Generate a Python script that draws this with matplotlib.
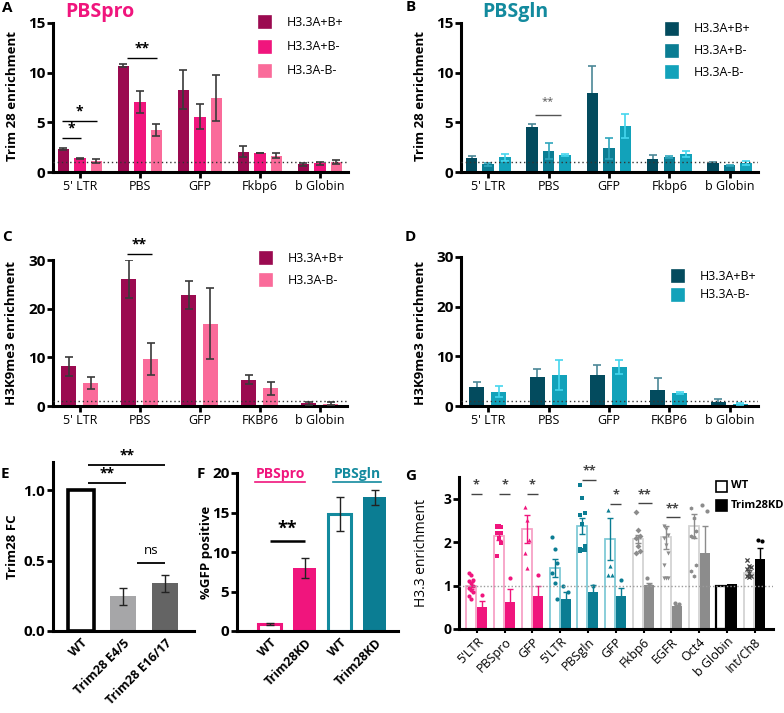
import matplotlib
matplotlib.use('Agg')
import matplotlib.pyplot as plt
import numpy as np
from matplotlib.patches import Rectangle
from matplotlib.lines import Line2D

plt.rcParams['font.family'] = ['Open Sans', 'DejaVu Sans']

# ---------------- data ----------------
genes_AB = ["5' LTR", "PBS", "GFP", "Fkbp6", "b Globin"]
genes_CD = ["5' LTR", "PBS", "GFP", "FKBP6", "b Globin"]
series3 = ["H3.3A+B+", "H3.3A+B-", "H3.3A-B-"]
series2 = ["H3.3A+B+", "H3.3A-B-"]

a_pp = [2.35, 10.7, 8.3, 2.05, 0.77]
a_pm = [1.4, 7.05, 5.55, 1.88, 0.87]
a_mm = [1.1, 4.22, 7.48, 1.64, 1.0]
a_pp_err = [0.1, 0.15, 1.95, 0.55, 0.12]
a_pm_err = [0.05, 1.08, 1.25, 0.0, 0.12]
a_mm_err = [0.2, 0.58, 2.3, 0.27, 0.18]

b_pp = [1.44, 4.48, 7.92, 1.34, 0.88]
b_pm = [0.8, 2.14, 2.37, 1.47, 0.67]
b_mm = [1.47, 1.74, 4.64, 1.77, 0.9]
b_pp_err = [0.2, 0.33, 2.78, 0.36, 0.12]
b_pm_err = [0.15, 0.8, 1.05, 0.1, 0.05]
b_mm_err = [0.37, 0.1, 1.17, 0.3, 0.2]

c_pp = [8.14, 26.1, 22.8, 5.38, 0.6]
c_mm = [4.76, 9.7, 16.9, 3.66, 0.5]
c_pp_err = [1.9, 4.0, 2.8, 0.9, 0.3]
c_mm_err = [1.3, 3.3, 7.3, 1.3, 0.26]

d_pp = [3.87, 5.8, 6.27, 3.27, 0.8]
d_mm = [2.87, 6.2, 7.87, 2.67, 0.47]
d_pp_err = [1.0, 1.6, 1.93, 2.33, 0.6]
d_mm_err = [1.13, 3.0, 1.4, 0.2, 0.2]

e_labels = ["WT", "Trim28 E4/5", "Trim28 E16/17"]
e_vals = [1.0, 0.245, 0.338]
e_err = [0.0, 0.063, 0.063]

f_labels = ["WT", "Trim28KD", "WT", "Trim28KD"]
f_vals = [0.9, 8.0, 14.8, 16.9]
f_err = [0.1, 1.25, 2.2, 0.95]

g_cats = ["5'LTR", "PBSpro", "GFP", "5'LTR", "PBSgln", "GFP", "Fkbp6", "EGFR", "Oct4", "b Globin", "Int/Ch8"]
g_wt = [1.0, 2.14, 2.3, 1.4, 2.37, 2.07, 2.07, 2.11, 2.37, 1.0, 1.3]
g_wt_err = [0.08, 0.09, 0.33, 0.21, 0.19, 0.49, 0.1, 0.27, 0.27, 0.0, 0.06]
g_kd = [0.5, 0.63, 0.75, 0.69, 0.86, 0.76, 1.01, 0.52, 1.75, 1.03, 1.61]
g_kd_err = [0.14, 0.29, 0.25, 0.17, 0.16, 0.18, 0.05, 0.03, 0.62, 0.0, 0.26]
g_wt_pts = [
    [1.3, 1.25, 1.12, 1.1, 1.05, 1.0, 0.95, 0.9, 0.85, 0.75, 0.7],
    [2.38, 2.37, 2.36, 2.35, 2.22, 2.21, 2.2, 2.1, 1.98, 1.68],
    [2.81, 2.52, 2.06, 1.75, 1.4],
    [2.12, 1.85, 1.52, 1.29, 1.07, 0.69],
    [3.31, 3.02, 2.68, 2.63, 2.42, 1.92, 1.85, 1.82, 1.82, 1.8],
    [2.75, 1.44, 1.25, 1.25],
    [2.69, 2.29, 2.13, 2.1, 1.9, 1.79, 1.75],
    [2.38, 2.3, 2.17, 2.1, 1.94, 1.75, 1.48, 1.17, 1.17, 1.17],
    [2.79, 2.56, 2.25, 2.14, 2.12, 1.47, 1.34, 1.21],
    [],
    [1.59, 1.45, 1.43, 1.39, 1.29, 1.22, 1.21, 1.2],
]
g_kd_pts = [[0.78], [1.17], [1.25], [0.98, 0.86], [1.0], [1.12],
            [1.17, 1.02, 0.98, 0.96], [0.6, 0.58], [2.85, 2.71], [], [2.05, 2.02]]
g_markers = ['o', 's', '^', 'o', 's', '^', 'D', 'v', 'h', 'o', 'x']

# ---------------- colours ----------------
PINK = ['#9B0A50', '#F0157D', '#FA6B9A']
TEAL = ['#034B5E', '#0B7D93', '#12A2BA']
TEAL_ERR = ['#4C8797', '#2FA5BC', '#45D6EE']
PINK_MAIN = '#F0157D'
TEAL_MAIN = '#138A9E'

W, H = 784, 713
fig = plt.figure(figsize=(7.84, 7.13), dpi=100)

YT_FS = 11
XT_FS = 9


def ax_at(x0, x1, ytop, ybot):
    return fig.add_axes([x0 / W, (H - ybot) / H, (x1 - x0) / W, (ybot - ytop) / H])


def style(ax, yticks, ylim, xlim, tick_fs=YT_FS, labels=None):
    for s in ['top', 'right']:
        ax.spines[s].set_visible(False)
    for s in ['left', 'bottom']:
        ax.spines[s].set_linewidth(2.2)
    ax.tick_params(width=2, length=4, direction='out', pad=1.5)
    ax.set_ylim(*ylim)
    ax.set_xlim(*xlim)
    ax.set_yticks(yticks)
    ax.set_yticklabels(labels if labels else [f"{t:g}" for t in yticks],
                       fontweight='bold', fontsize=tick_fs)
    ax.patch.set_alpha(0)


def ftext(x, y, s, **kw):
    return fig.text(x / W, 1 - y / H, s, **kw)


def sig(ax, x1, x2, y, txt, dy, color='k', fs=10, weight='bold', lw=1.0):
    ax.plot([x1, x2], [y, y], color=color, lw=lw, clip_on=False, solid_capstyle='butt')
    ax.text((x1 + x2) / 2, y + dy, txt, ha='center', va='center', fontsize=fs,
            fontweight=weight, color=color, clip_on=False)


def legend_sq(x, y, color, label, size=12, fs=9, edge=None, weight='normal', gap=16):
    fig.add_artist(Rectangle((x / W, (H - y - size / 2) / H), size / W, size / H,
                             transform=fig.transFigure, facecolor=color,
                             edgecolor=edge if edge else color, lw=1.2))
    ftext(x + size + gap, y, label, va='center', ha='left', fontsize=fs, fontweight=weight)


def grouped(ax, vals, errs, colors, ecolors, offsets, width, err_under=None):
    x = np.arange(len(vals[0]))
    for k, (v, e, c, ec, off) in enumerate(zip(vals, errs, colors, ecolors, offsets)):
        under = err_under[k] if err_under else False
        ax.bar(x + off, v, width, color=c, zorder=2)
        ax.errorbar(x + off, v, yerr=e, fmt='none', ecolor=ec, elinewidth=1.2,
                    capsize=3, capthick=1.2, zorder=1 if under else 3)


# ---------------- A ----------------
axA = ax_at(53, 348, 23, 172)
style(axA, [0, 5, 10, 15], (0, 15), (-0.45, 4.47))
grouped(axA, [a_pp, a_pm, a_mm], [a_pp_err, a_pm_err, a_mm_err], PINK, ['#3a3a3a'] * 3,
        [-0.275, 0, 0.275], 0.19)
axA.axhline(1, ls=(0, (1, 2)), color='#333333', lw=1, zorder=4)
axA.set_xticks(range(5))
axA.set_xticklabels(genes_AB, fontsize=XT_FS)
sig(axA, -0.3, 0.02, 3.47, '*', 0.9)
sig(axA, -0.3, 0.28, 5.15, '*', 0.9)
sig(axA, 0.78, 1.28, 11.5, '**', 0.9)
ftext(65, 12, 'PBSpro', fontsize=14, fontweight='bold', color=PINK_MAIN, va='center')
ftext(2, 8, 'A', fontsize=11, fontweight='bold', va='center')
ftext(13, 96, 'Trim 28 enrichment', rotation=90, fontsize=9.5, fontweight='bold', va='center', ha='center')
for i, (s, c) in enumerate(zip(series3, PINK)):
    legend_sq(259, [22, 47, 71][i], c, s, fs=9)

# ---------------- B ----------------
axB = ax_at(461, 758, 23, 172)
style(axB, [0, 5, 10, 15], (0, 15), (-0.45, 4.47))
grouped(axB, [b_pp, b_pm, b_mm], [b_pp_err, b_pm_err, b_mm_err], TEAL, TEAL_ERR,
        [-0.275, 0, 0.275], 0.19, err_under=[True, False, False])
axB.axhline(1, ls=(0, (1, 2)), color='#333333', lw=1, zorder=4)
axB.set_xticks(range(5))
axB.set_xticklabels(genes_AB, fontsize=XT_FS)
sig(axB, 0.78, 1.2, 5.75, '**', 1.3, color='#555555', fs=8, weight='normal')
ftext(482, 12, 'PBSgln', fontsize=14, fontweight='bold', color=TEAL_MAIN, va='center')
ftext(406, 7, 'B', fontsize=11, fontweight='bold', va='center')
ftext(421, 96, 'Trim 28 enrichment', rotation=90, fontsize=9.5, fontweight='bold', va='center', ha='center')
for i, (s, c) in enumerate(zip(series3, TEAL)):
    legend_sq(666, [29, 51, 72][i], c, s, fs=9)

# ---------------- C ----------------
axC = ax_at(53, 347, 260, 406)
style(axC, [0, 10, 20, 30], (0, 30), (-0.45, 4.45))
grouped(axC, [c_pp, c_mm], [c_pp_err, c_mm_err], [PINK[0], PINK[2]], ['#3a3a3a'] * 2,
        [-0.19, 0.175], 0.25)
axC.axhline(1, ls=(0, (1, 2)), color='#333333', lw=1, zorder=4)
axC.set_xticks(range(5))
axC.set_xticklabels(genes_CD, fontsize=XT_FS)
sig(axC, 0.78, 1.2, 31.2, '**', 1.9)
ftext(2, 237, 'C', fontsize=11, fontweight='bold', va='center')
ftext(12, 333, 'H3K9me3 enrichment', rotation=90, fontsize=9.5, fontweight='bold', va='center', ha='center')
for i, (s, c) in enumerate(zip(series2, [PINK[0], PINK[2]])):
    legend_sq(260, [258, 280][i], c, s, fs=9)

# ---------------- D ----------------
axD = ax_at(461, 758, 257, 406)
style(axD, [0, 10, 20, 30], (0, 30), (-0.45, 4.47))
grouped(axD, [d_pp, d_mm], [d_pp_err, d_mm_err], [TEAL[0], TEAL[2]], [TEAL_ERR[0], TEAL_ERR[2]],
        [-0.19, 0.175], 0.25, err_under=[True, False])
axD.axhline(1, ls=(0, (1, 2)), color='#333333', lw=1, zorder=4)
axD.set_xticks(range(5))
axD.set_xticklabels(genes_CD, fontsize=XT_FS)
ftext(405, 237, 'D', fontsize=11, fontweight='bold', va='center')
ftext(421, 333, 'H3K9me3 enrichment', rotation=90, fontsize=9.5, fontweight='bold', va='center', ha='center')
for i, (s, c) in enumerate(zip(series2, [TEAL[0], TEAL[2]])):
    legend_sq(672, [276, 295][i], c, s, fs=9)

# ---------------- E ----------------
axE = ax_at(53, 194, 462, 631)
style(axE, [0.0, 0.5, 1.0], (0, 1.2), (-0.67, 2.69), labels=['0.0', '0.5', '1.0'])
xe = np.arange(3)
axE.bar(xe, e_vals, 0.62, color=['white', '#A6A6A8', '#646464'],
        edgecolor=['black', '#A6A6A8', '#646464'], linewidth=[2.6, 0, 0], zorder=2)
axE.errorbar(xe[1:], e_vals[1:], yerr=e_err[1:], fmt='none', ecolor='#222222',
             elinewidth=1, capsize=3, capthick=1, zorder=3)
axE.set_xticks(xe)
axE.set_xticklabels(e_labels, rotation=45, ha='right', rotation_mode='anchor',
                    fontsize=9, fontweight='bold')
axE.tick_params(axis='x', length=0, pad=4)
sig(axE, 0.17, 1.07, 1.05, '**', 0.065, fs=10, lw=1.3)
sig(axE, 0.17, 2.0, 1.18, '**', 0.065, fs=10, lw=1.3)
sig(axE, 1.33, 2.0, 0.486, 'ns', 0.085, fs=9.5, weight='normal', lw=1.3)
ftext(1, 474, 'E', fontsize=11, fontweight='bold', va='center')
ftext(13, 547, 'Trim28 FC', rotation=90, fontsize=9.5, fontweight='bold', va='center', ha='center')

# ---------------- F ----------------
axF = ax_at(237, 398, 473, 631)
style(axF, [0, 5, 10, 15, 20], (0, 20), (-0.94, 3.66))
xf = np.arange(4)
axF.bar(xf, f_vals, 0.66, color=['white', PINK_MAIN, 'white', '#0B7D93'],
        edgecolor=[PINK_MAIN, PINK_MAIN, TEAL_MAIN, '#0B7D93'], linewidth=[2.2, 0, 2.2, 0], zorder=2)
axF.errorbar(xf, f_vals, yerr=f_err, fmt='none', ecolor='#222222',
             elinewidth=1, capsize=3, capthick=1, zorder=3)
axF.set_xticks(xf)
axF.set_xticklabels(f_labels, rotation=45, ha='right', rotation_mode='anchor',
                    fontsize=9, fontweight='bold')
axF.tick_params(axis='x', length=0, pad=4)
sig(axF, 0.0, 1.0, 11.35, '**', 1.6, fs=13, lw=1.8)
ftext(197, 474, 'F', fontsize=11, fontweight='bold', va='center')
ftext(207, 552, '%GFP positive', rotation=90, fontsize=9.5, fontweight='bold', va='center', ha='center')
renderer = fig.canvas.get_renderer()
for (xc, lab, col) in [(280, 'PBSpro', PINK_MAIN), (357, 'PBSgln', TEAL_MAIN)]:
    t = ftext(xc, 474, lab, fontsize=10, fontweight='bold', color=col, ha='center', va='center')
    bb = t.get_window_extent(renderer)
    x0, x1 = bb.x0 / fig.dpi / 7.84, bb.x1 / fig.dpi / 7.84
    fig.add_artist(Line2D([x0, x1], [1 - 482 / H, 1 - 482 / H], transform=fig.transFigure,
                          color=col, lw=1.2))

# ---------------- G ----------------
axG = ax_at(459, 773, 477, 629)
style(axG, [0, 1, 2, 3], (0, 3.5), (-0.64, 10.66), tick_fs=10)
xg = np.arange(len(g_cats))
grp_light = ['#F7A1C6'] * 3 + ['#80CAD7'] * 3 + ['#D3D3D3'] * 3 + ['#000000', '#D3D3D3']
grp_fill = [PINK_MAIN] * 3 + ['#0B7D93'] * 3 + ['#8C8C8C'] * 3 + ['#000000', '#000000']
grp_pt = [PINK_MAIN] * 3 + ['#0B7D93'] * 3 + ['#8C8C8C'] * 3 + ['#000000', '#555555']
wt_lw = [1.3] * 9 + [1.6, 1.3]
axG.bar(xg - 0.2, g_wt, 0.36, facecolor='white', edgecolor=grp_light, linewidth=wt_lw, zorder=2)
axG.bar(xg + 0.2, g_kd, 0.36, color=grp_fill, zorder=2)
for i in range(len(g_cats)):
    if g_wt_err[i] > 0:
        axG.errorbar(xg[i] - 0.2, g_wt[i], yerr=g_wt_err[i], fmt='none', ecolor=grp_pt[i],
                     elinewidth=1, capsize=2, capthick=1, zorder=3)
    if g_kd_err[i] > 0:
        axG.errorbar(xg[i] + 0.2, g_kd[i], yerr=g_kd_err[i], fmt='none', ecolor=grp_fill[i],
                     elinewidth=1, capsize=2, capthick=1, zorder=3)
    n = len(g_wt_pts[i])
    if n:
        offs = (((np.arange(n) % 3) - 1) * 0.08) if n > 1 else np.zeros(1)
        axG.scatter(xg[i] - 0.2 + offs, g_wt_pts[i], s=9, marker=g_markers[i],
                    color=grp_pt[i] if i != 10 else '#444444', linewidths=0.9 if i == 10 else 0,
                    zorder=4, clip_on=False)
    n = len(g_kd_pts[i])
    if n:
        offs = np.zeros(1) if n == 1 else (((np.arange(n) % 3) - 1) * 0.08 if n > 2 else np.array([-0.08, 0.08]))
        axG.scatter(xg[i] + 0.2 + offs, g_kd_pts[i], s=9, marker='o',
                    color=grp_pt[i] if i != 10 else '#000000', linewidths=0, zorder=4, clip_on=False)
axG.axhline(1, ls=(0, (1, 1.5)), color='#9a9a9a', lw=1, zorder=5)
axG.set_xticks(xg)
axG.set_xticklabels(g_cats, rotation=45, ha='right', rotation_mode='anchor', fontsize=9)
axG.tick_params(axis='x', length=3, width=1.5)
sig(axG, -0.22, 0.2, 3.11, '*', 0.2, color='#444444', fs=9)
sig(axG, 0.8, 1.2, 3.11, '*', 0.2, color='#444444', fs=9)
sig(axG, 1.8, 2.2, 3.11, '*', 0.2, color='#444444', fs=9)
sig(axG, 3.8, 4.3, 3.43, '**', 0.2, color='#444444', fs=9)
sig(axG, 4.8, 5.2, 2.88, '*', 0.2, color='#444444', fs=9)
sig(axG, 5.8, 6.3, 2.9, '**', 0.2, color='#444444', fs=9)
sig(axG, 6.8, 7.3, 2.57, '**', 0.2, color='#444444', fs=9)
ftext(405, 476, 'G', fontsize=11, fontweight='bold', va='center')
ftext(422, 553, 'H3.3 enrichment', rotation=90, fontsize=10, va='center', ha='center')
legend_sq(716, 486, 'white', 'WT', size=11, fs=8, edge='black', weight='bold', gap=4)
legend_sq(716, 505, 'black', 'Trim28KD', size=11, fs=8, weight='bold', gap=4)

fig.savefig('out.png', dpi=100)
